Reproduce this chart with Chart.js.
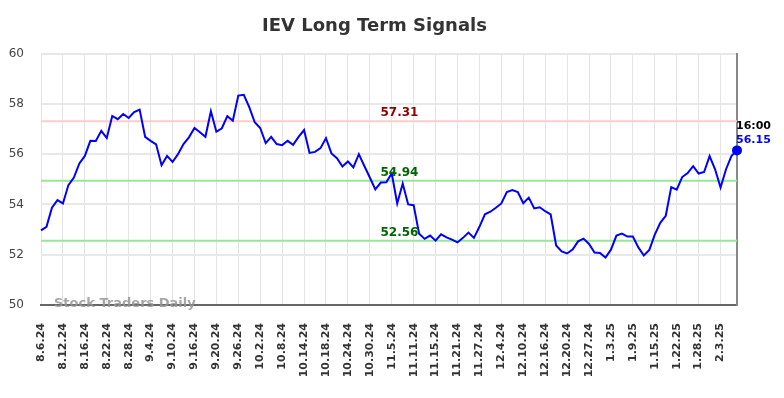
<!DOCTYPE html>
<html>
<head>
<meta charset="utf-8">
<script src="https://cdn.jsdelivr.net/npm/chart.js@4.4.1/dist/chart.umd.min.js"></script>
<style>
  html, body { margin: 0; padding: 0; background: #ffffff; }
  #wrap { width: 784px; height: 398px; position: relative; }
</style>
</head>
<body>
<div id="wrap"><canvas id="c" width="784" height="398"></canvas></div>
<script>
const tickLabels = ['8.6.24','8.12.24','8.16.24','8.22.24','8.28.24','9.4.24','9.10.24','9.16.24','9.20.24','9.26.24','10.2.24','10.8.24','10.14.24','10.18.24','10.24.24','10.30.24','11.5.24','11.11.24','11.15.24','11.21.24','11.27.24','12.4.24','12.10.24','12.16.24','12.20.24','12.27.24','1.3.25','1.9.25','1.15.25','1.22.25','1.28.25','2.3.25'];
const tickEvery = 4;
const closes = [
  52.97, 53.11, 53.87, 54.17, 54.04, 54.77, 55.07, 55.63, 55.93, 56.53,
  56.52, 56.93, 56.64, 57.52, 57.39, 57.60, 57.44, 57.67, 57.77, 56.69,
  56.53, 56.39, 55.56, 55.93, 55.69, 56.00, 56.40, 56.67, 57.04, 56.87,
  56.69, 57.71, 56.89, 57.03, 57.51, 57.33, 58.33, 58.36, 57.87, 57.27,
  57.04, 56.44, 56.69, 56.40, 56.36, 56.53, 56.37, 56.69, 56.96, 56.05,
  56.09, 56.24, 56.64, 56.03, 55.84, 55.51, 55.71, 55.47, 56.00, 55.53,
  55.07, 54.60, 54.87, 54.88, 55.23, 54.04, 54.83, 54.00, 53.97, 52.83,
  52.63, 52.76, 52.56, 52.81, 52.69, 52.60, 52.49, 52.67, 52.88, 52.67,
  53.11, 53.61, 53.71, 53.87, 54.04, 54.49, 54.57, 54.49, 54.05, 54.27,
  53.84, 53.89, 53.73, 53.60, 52.37, 52.13, 52.05, 52.21, 52.53, 52.64,
  52.43, 52.09, 52.07, 51.89, 52.20, 52.76, 52.84, 52.72, 52.72, 52.29,
  51.97, 52.19, 52.80, 53.27, 53.55, 54.69, 54.59, 55.09, 55.25, 55.52,
  55.23, 55.29, 55.92, 55.40, 54.67, 55.40, 55.93, 56.15
];
const levels = [57.31, 54.94, 52.56];
const yTicks = [50, 52, 54, 56, 58, 60];
const lastTime = '16:00';

const levelLineColors = ['#ffcccc', '#99e699', '#99e699'];
const levelTextColors = ['#8b0000', '#006400', '#006400'];

const categories = closes.map((_, i) => (i % tickEvery === 0 && tickLabels[i / tickEvery]) ? tickLabels[i / tickEvery] : '');
const lastIdx = closes.length - 1;

const overlay = {
  id: 'overlay',
  beforeDatasetsDraw(chart) {
    const { ctx, chartArea, scales } = chart;
    ctx.save();
    levels.forEach((lv, k) => {
      const y = scales.y.getPixelForValue(lv);
      ctx.strokeStyle = levelLineColors[k];
      ctx.lineWidth = 2;
      ctx.beginPath();
      ctx.moveTo(chartArea.left, y);
      ctx.lineTo(chartArea.right, y);
      ctx.stroke();
    });
    ctx.restore();
  },
  afterDatasetsDraw(chart) {
    const { ctx, chartArea, scales } = chart;
    ctx.save();
    ctx.font = 'bold 12px "DejaVu Sans"';
    ctx.textAlign = 'center';
    ctx.textBaseline = 'middle';
    const lx = chartArea.left + (chartArea.right - chartArea.left) * 0.515;
    levels.forEach((lv, k) => {
      const y = scales.y.getPixelForValue(lv);
      ctx.fillStyle = levelTextColors[k];
      ctx.fillText(lv.toFixed(2), lx, y - 8);
    });
    // watermark
    ctx.font = 'bold 13px "DejaVu Sans"';
    ctx.fillStyle = 'rgba(150,150,150,0.85)';
    ctx.textAlign = 'left';
    ctx.fillText('Stock Traders Daily', chartArea.left + 13, chartArea.bottom - 1);
    // end labels
    const px = scales.x.getPixelForValue(lastIdx);
    const py = scales.y.getPixelForValue(closes[lastIdx]);
    ctx.font = 'bold 11px "DejaVu Sans"';
    ctx.fillStyle = '#000000';
    ctx.fillText(lastTime, px - 1, py - 24);
    ctx.fillStyle = '#0000ff';
    ctx.fillText(closes[lastIdx].toFixed(2), px - 1, py - 10);
    ctx.restore();
  }
};

new Chart(document.getElementById('c'), {
  type: 'line',
  data: {
    labels: categories,
    datasets: [{
      data: closes,
      borderColor: '#0000ff',
      backgroundColor: '#0000ff',
      borderWidth: 2,
      tension: 0,
      fill: false,
      pointRadius: (c) => c.dataIndex === lastIdx ? 4 : 0,
      pointHoverRadius: 0,
      yAxisID: 'y'
    }]
  },
  options: {
    responsive: false,
    animation: false,
    events: [],
    layout: { padding: { left: 0, right: 35, top: 0, bottom: 0 } },
    plugins: {
      legend: { display: false },
      tooltip: { enabled: false },
      title: {
        display: true,
        text: 'IEV Long Term Signals',
        color: '#333333',
        font: { family: '"DejaVu Sans"', size: 18, weight: 'bold' },
        padding: { top: 16, bottom: 16 }
      }
    },
    scales: {
      x: {
        type: 'category',
        offset: false,
        grid: { color: '#e3e3e3', lineWidth: 1, drawTicks: false },
        border: { display: true, color: '#666666', width: 2 },
        ticks: {
          autoSkip: false,
          maxRotation: 90,
          minRotation: 90,
          padding: 18,
          color: '#333333',
          font: { family: '"DejaVu Sans"', size: 11, weight: 'bold' },
          callback: function (v) {
            const l = this.getLabelForValue(v);
            return l === '' ? null : l;
          }
        },
        afterFit: (s) => { s.height = 93; }
      },
      y: {
        position: 'left',
        min: 50,
        max: 60,
        afterBuildTicks: (s) => { s.ticks = yTicks.map(v => ({ value: v })); },
        grid: { color: '#e8e8e8', lineWidth: 2, drawTicks: false },
        border: { display: false },
        ticks: {
          padding: 17,
          color: '#444444',
          font: { family: '"DejaVu Sans"', size: 12 }
        },
        afterFit: (s) => { s.width = 41; }
      },
      y2: {
        position: 'right',
        min: 50,
        max: 60,
        grid: { display: false, drawTicks: false },
        border: { display: true, color: '#888888', width: 2 },
        ticks: { display: false },
        afterFit: (s) => { s.width = 12; }
      }
    }
  },
  plugins: [overlay]
});
</script>
</body>
</html>
